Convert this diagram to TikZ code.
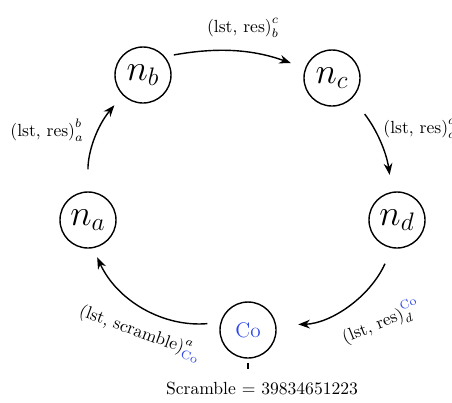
\documentclass[tikz,border=0pt]{standalone}
\usetikzlibrary{arrows.meta}
\usepackage{amsmath}
\definecolor{coblue}{RGB}{45,70,235}

\begin{document}
\begin{tikzpicture}[line width=0.8pt,>=Stealth,
  agent/.style={draw,circle,minimum size=1.12cm,inner sep=0pt,font=\huge},
  flow/.style={->,shorten <=#1},
  flow/.default=0.3cm]
\useasboundingbox (0,0) rectangle (9.04,8.04);
% 四个节点 n_a ... n_d
\foreach \nm/\x/\y in {a/1.76/3.64,b/2.86/6.54,c/6.64/6.48,d/7.94/3.64}
  \node[agent] (\nm) at (\x,\y) {$n_{\nm}$};
% 协调者
\node[agent,font=\large,text=coblue] (co) at (4.96,1.44) {Co};
\node (scr) at (5.24,0.28) {Scramble $=$ 39834651223};
% 环上的箭头
\draw[flow=0.44cm,shorten >=0.26cm] (a.90) to[bend left=20] (b.225);
\draw[flow=0.18cm,shorten >=0.3cm] (b.40) to[bend left=15] (c.160);
\draw[flow=0.4cm,shorten >=0.34cm] (c.-45) to[bend left=15] (d.100);
\draw[flow=0.34cm,shorten >=0.44cm] (d.-100) to[bend left=32] (co.10);
\draw[flow=0.26cm,shorten >=0.2cm] (co.165) to[bend left=35] (a.-80);
\draw[line width=0.6pt,shorten <=0.08cm,shorten >=0.12cm] (co.south) -- (co.south |- scr.north);
% 箭头标签
\node (lbc) at (4.86,7.48) {$\text{(lst, res)}^{c}_{b}$};
\node (lab) at (0.94,5.44) {$\text{(lst, res)}^{b}_{a}$};
\node[anchor=west,inner sep=1pt] (lcd) at (7.62,5.5) {$\text{(lst, res)}^{d}_{c}$};
\node[rotate=22] (ldco) at (7.62,1.6) {$\text{(lst, res)}^{\textcolor{coblue}{\mathrm{Co}}}_{d}$};
\node[rotate=-20] (lcoa) at (2.8,1.38) {$\text{(lst, scramble)}^{a}_{\textcolor{coblue}{\mathrm{Co}}}$};
\end{tikzpicture}
\end{document}
